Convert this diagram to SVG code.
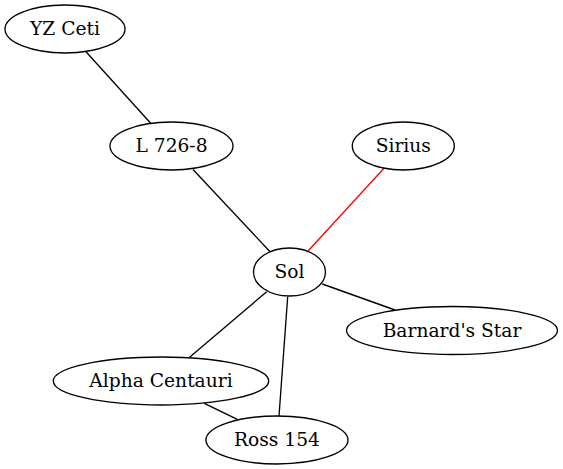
<svg xmlns="http://www.w3.org/2000/svg" width="563" height="469" viewBox="0 0 563 469">
<style>
.n ellipse{fill:none;stroke:#000;stroke-width:1.33}
.n text{font-family:"DejaVu Serif",serif;font-size:18.67px;fill:#000;text-anchor:middle}
.e{stroke:#000;stroke-width:1.33;fill:none}
.red{stroke:#ff0000}
</style>
<rect width="563" height="469" fill="#fff"/>
<g id="edges">
<line class="e" x1="86" y1="51.7" x2="150.7" y2="123.3"/>
<line class="e" x1="193" y1="169.5" x2="270" y2="251.7"/>
<line class="e red" x1="384" y1="168.3" x2="308.3" y2="250.7"/>
<line class="e" x1="322.3" y1="284" x2="395" y2="310"/>
<line class="e" x1="266.7" y1="291.7" x2="189" y2="357.7"/>
<line class="e" x1="287.7" y1="296.7" x2="279" y2="416"/>
<line class="e" x1="204.3" y1="403.3" x2="237.3" y2="419.3"/>
</g>
<g id="yzceti" class="n"><ellipse cx="65" cy="29" rx="60" ry="24"/><text x="65" y="35">YZ Ceti</text></g>
<g id="l7268" class="n"><ellipse cx="171.5" cy="146" rx="61.5" ry="24"/><text x="171.5" y="152">L 726-8</text></g>
<g id="sirius" class="n"><ellipse cx="403.3" cy="146" rx="51" ry="24"/><text x="403.3" y="152">Sirius</text></g>
<g id="sol" class="n"><ellipse cx="289.5" cy="272" rx="36" ry="24"/><text x="289.5" y="278">Sol</text></g>
<g id="barnard" class="n"><ellipse cx="452" cy="330.5" rx="105.5" ry="24"/><text x="452" y="336.5">Barnard's Star</text></g>
<g id="alphacen" class="n"><ellipse cx="161" cy="381" rx="107.7" ry="24"/><text x="161" y="387">Alpha Centauri</text></g>
<g id="ross154" class="n"><ellipse cx="277" cy="440" rx="71" ry="24"/><text x="277" y="446">Ross 154</text></g>
</svg>
